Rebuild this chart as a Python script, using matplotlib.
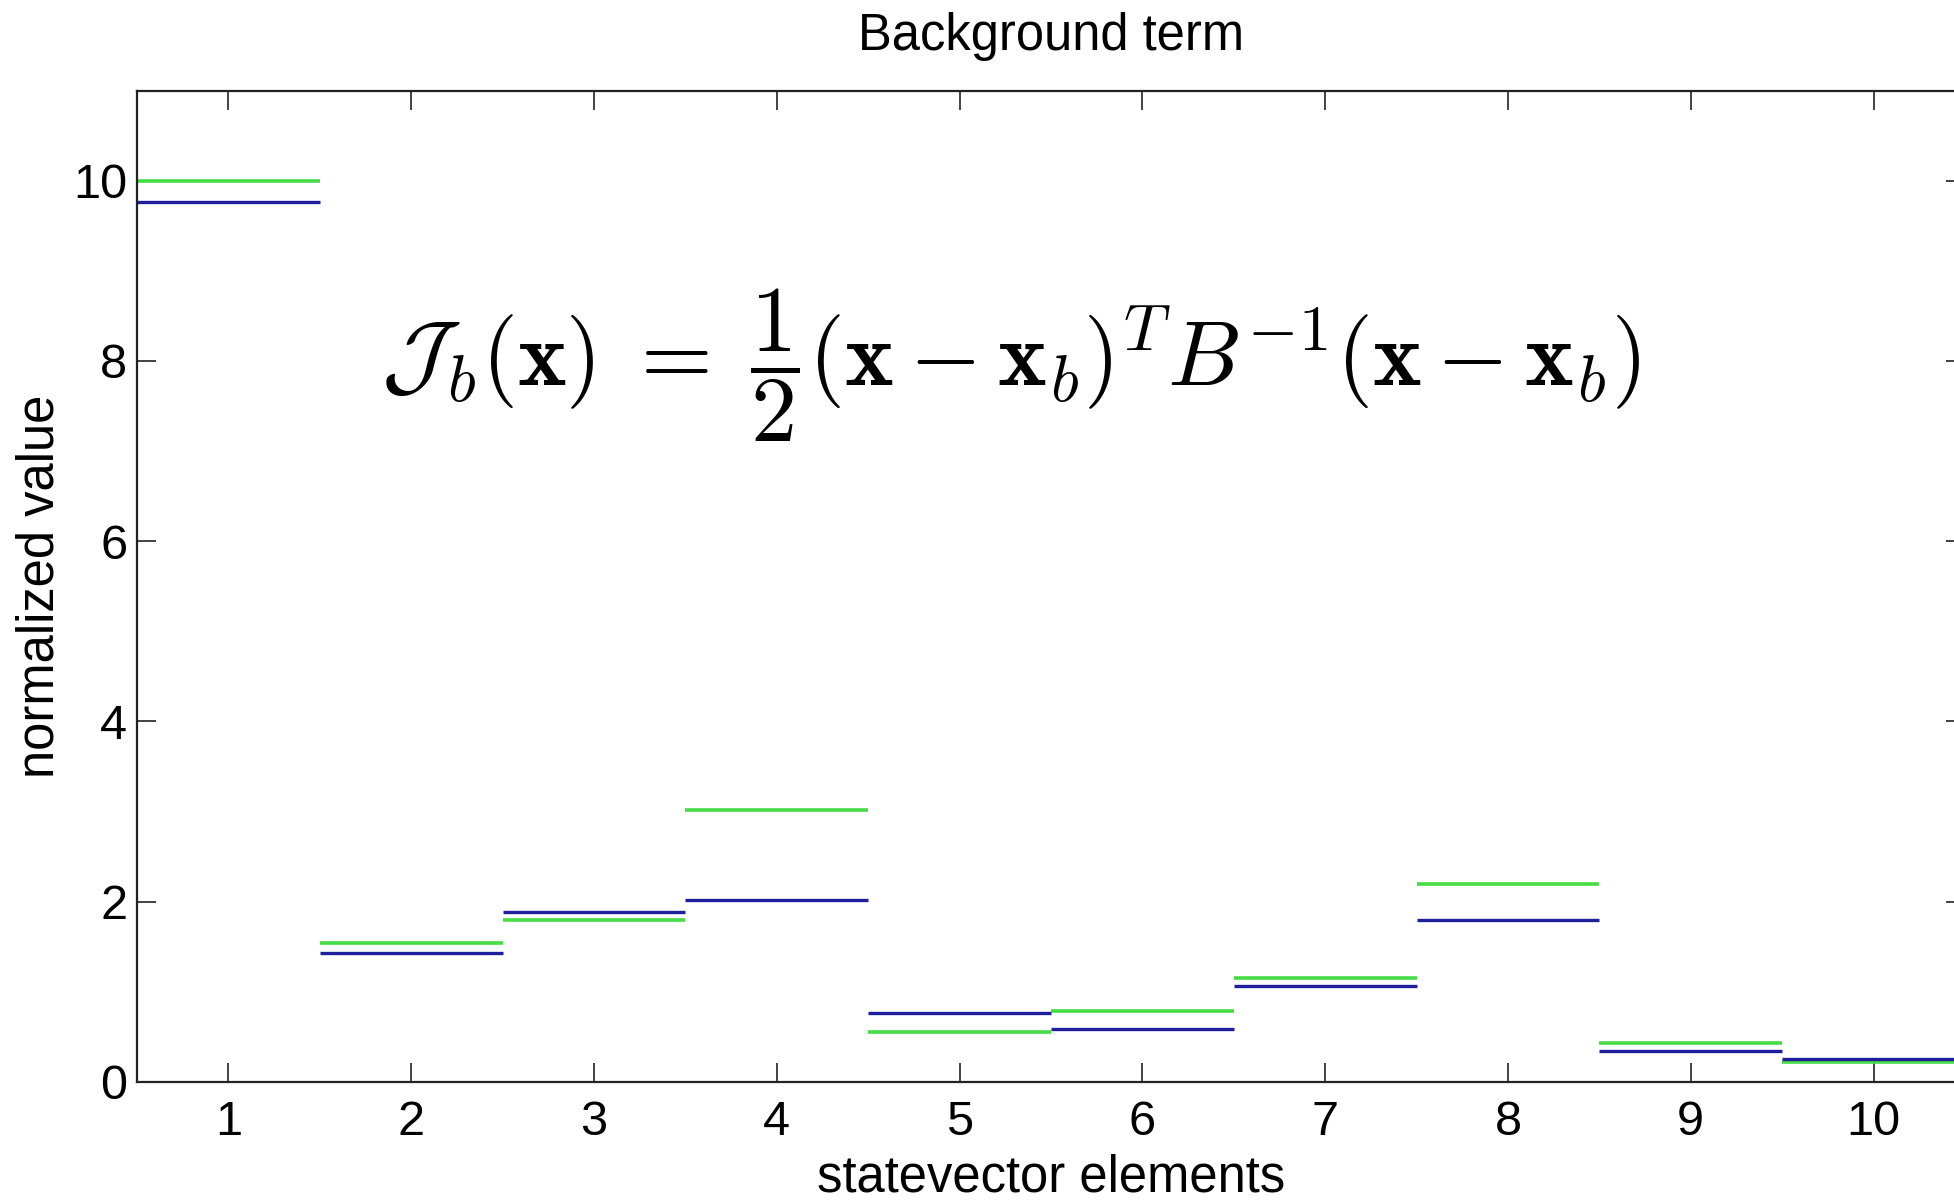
import matplotlib
matplotlib.use("Agg")
import matplotlib.pyplot as plt

# --- DATA ---
elements = [1, 2, 3, 4, 5, 6, 7, 8, 9, 10]
green_vals = [10.0, 1.54, 1.79, 3.02, 0.55, 0.79, 1.15, 2.20, 0.43, 0.22]
blue_vals = [9.76, 1.43, 1.88, 2.02, 0.76, 0.585, 1.06, 1.79, 0.34, 0.25]
y_ticks = [0, 2, 4, 6, 8, 10]

plt.rcParams["font.family"] = ["Liberation Sans", "DejaVu Sans"]
plt.rcParams["mathtext.fontset"] = "cm"

fig = plt.figure(figsize=(19.54, 12.01), dpi=100)
ax = fig.add_axes([0.0701, 0.0993, 0.9355, 0.8252])

left = [e - 0.5 for e in elements]
right = [e + 0.5 for e in elements]
ax.hlines(green_vals, left, right, colors="#45dc45", linewidth=2.6)
ax.hlines(blue_vals, left, right, colors="#1f1f9e", linewidth=2.4)

ax.set_xlim(0.5, 10.5)
ax.set_ylim(0, 11)
ax.set_xticks(elements)
ax.set_yticks(y_ticks)
ax.tick_params(direction="in", length=14, width=1.2, labelsize=35,
               top=True, right=True, color="#222222")
ax.tick_params(axis="x", pad=13)
ax.tick_params(axis="y", pad=7)
for s in ax.spines.values():
    s.set_linewidth(1.6)
    s.set_color("#222222")

ax.set_title("Background term", fontsize=36.5, pad=29)
ax.set_xlabel("statevector elements", fontsize=36.5, labelpad=6)
ax.set_ylabel("normalized value", fontsize=36.5, labelpad=6)

eq = (r"$\mathcal{J}_b(\mathbf{x})\;=\;\dfrac{1}{2}(\mathbf{x}-\mathbf{x}_b)^T"
      r"B^{-1}(\mathbf{x}-\mathbf{x}_b)$")
ax.text(0.478, 0.723, eq, transform=ax.transAxes, fontsize=66.5,
        ha="center", va="center")

fig.savefig("out.png", dpi=100)
